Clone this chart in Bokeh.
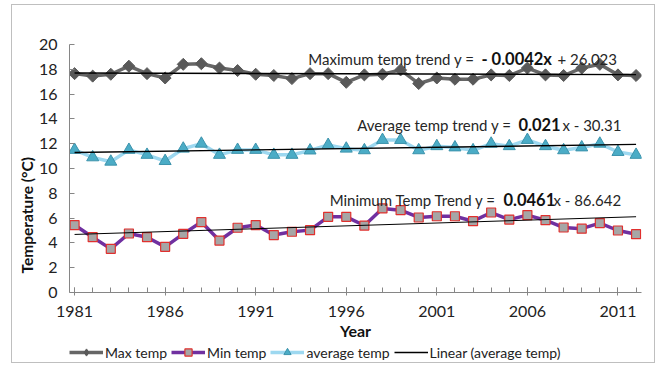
import math
from bokeh.plotting import figure
from bokeh.layouts import column
from bokeh.models import Label, Legend, LegendItem, FixedTicker, Range1d, Title
from bokeh.embed import file_html
from bokeh.resources import INLINE

# ---------------- data ----------------
years = list(range(1981, 2013))
max_temp = [17.65, 17.45, 17.6, 18.25, 17.65, 17.3, 18.4, 18.45, 18.1, 17.9,
            17.6, 17.5, 17.25, 17.65, 17.65, 16.95, 17.55, 17.6, 17.95, 16.85,
            17.3, 17.2, 17.2, 17.55, 17.5, 18.1, 17.55, 17.5, 18.1, 18.4,
            17.55, 17.5]
min_temp = [5.44, 4.46, 3.52, 4.76, 4.46, 3.68, 4.73, 5.68, 4.19, 5.22,
            5.44, 4.63, 4.9, 5.03, 6.1, 6.1, 5.4, 6.78, 6.64, 6.05,
            6.15, 6.15, 5.75, 6.45, 5.88, 6.24, 5.83, 5.24, 5.15, 5.6,
            5.0, 4.7]
avg_temp = [11.5, 10.9, 10.55, 11.5, 11.1, 10.6, 11.6, 12.0, 11.1, 11.5,
            11.5, 11.1, 11.1, 11.45, 11.9, 11.6, 11.47, 12.3, 12.3, 11.47,
            11.8, 11.7, 11.47, 12.0, 11.8, 12.3, 11.8, 11.47, 11.7, 12.0,
            11.33, 11.1]

# trend equations (slope, intercept) as printed on the chart
trend_max = (-0.0042, 26.023)
trend_avg = (0.021, -30.31)
trend_min = (0.0461, -86.642)

x_tick_values = [1981, 1986, 1991, 1996, 2001, 2006, 2011]
x_tick_labels = ["1981", "1986", "1991", "1996", "2001", "2006", "2011"]
y_tick_values = [0, 2, 4, 6, 8, 10, 12, 14, 16, 18, 20]
legend_labels = ["Max temp", "Min temp", "average temp", "Linear (average temp)"]

# styles
AX = "#868686"
FONT = "Lato"
C_MAX_LINE, C_MAX_MARK = "#666666", "#595959"
C_MIN_LINE, C_MIN_FILL, C_MIN_EDGE = "#7030A0", "#A6A6A6", "#E0302E"
C_AVG_LINE, C_AVG_FILL, C_AVG_EDGE = "#9DD8F0", "#4BACC6", "#3C93AC"

# ---------------- main figure ----------------
p = figure(frame_width=572, frame_height=248,
           x_range=Range1d(1980.72, 2012.3), y_range=Range1d(0, 20),
           output_backend="svg", toolbar_location=None,
           min_border_left=57, min_border_right=13,
           min_border_top=39, min_border_bottom=0)
p.margin = 0
p.outline_line_color = None
p.xgrid.grid_line_color = None
p.ygrid.grid_line_color = None

xa = p.xaxis[0]
xa.ticker = FixedTicker(ticks=x_tick_values, minor_ticks=years)
xa.major_label_overrides = {v: t for v, t in zip(x_tick_values, x_tick_labels)}
xa.axis_line_color = AX
xa.major_tick_line_color = AX
xa.minor_tick_line_color = AX
xa.major_tick_in = 5
xa.major_tick_out = 3
xa.minor_tick_in = 5
xa.minor_tick_out = 0
xa.major_label_standoff = 10
xa.major_label_text_font = FONT
xa.major_label_text_font_size = "16px"
xa.major_label_text_color = "#222222"
xa.axis_label = "Year"
xa.axis_label_text_font = FONT
xa.axis_label_text_font_size = "16px"
xa.axis_label_text_font_style = "bold"
xa.axis_label_text_color = "#111111"
xa.axis_label_standoff = 1

ya = p.yaxis[0]
ya.ticker = FixedTicker(ticks=y_tick_values, minor_ticks=[])
ya.axis_line_color = AX
ya.major_tick_line_color = AX
ya.minor_tick_line_color = None
ya.major_tick_in = 5
ya.major_tick_out = 0
ya.major_label_standoff = 12
ya.major_label_text_font = FONT
ya.major_label_text_font_size = "16px"
ya.major_label_text_color = "#222222"

ytitle = Title(text="Temperature (°C)", align="left", offset=19,
               text_font=FONT, text_font_size="15.5px", text_font_style="bold",
               text_color="#111111", standoff=0)
p.add_layout(ytitle, "left")

p.line(years, max_temp, line_color=C_MAX_LINE, line_width=3.5)
p.scatter(years, max_temp, marker="square", angle=math.pi / 4, size=8.5,
          fill_color=C_MAX_MARK, line_color=C_MAX_MARK)
p.line(years, min_temp, line_color=C_MIN_LINE, line_width=3.5)
p.scatter(years, min_temp, marker="square", size=9,
          fill_color=C_MIN_FILL, line_color=C_MIN_EDGE, line_width=1.2)
p.line(years, avg_temp, line_color=C_AVG_LINE, line_width=3.5)
p.scatter(years, avg_temp, marker="triangle", size=12,
          fill_color=C_AVG_FILL, line_color=C_AVG_EDGE, line_width=1)

ends = [years[0], years[-1]]
p.line(ends, [trend_max[0] * x + trend_max[1] for x in ends], line_color="black", line_width=1.3)
p.line(ends, [trend_avg[0] * x + trend_avg[1] for x in ends], line_color="black", line_width=1.3)
p.line(ends, [trend_min[0] * x + trend_min[1] for x in ends], line_color="black", line_width=1.0)


def dx(px):
    return 1981 + (px - 74.2) / 18.11


def dy(py):
    return (292 - py) / 12.4


def eq(norm1, bold_px, bold_txt, tail_px, tail_txt, base_py):
    p.add_layout(Label(x=dx(bold_px - 3), y=dy(base_py), text=norm1, text_align="right",
                       text_baseline="alphabetic", text_font=FONT, text_font_size="15px",
                       text_color="#262626"))
    p.add_layout(Label(x=dx(bold_px), y=dy(base_py), text=bold_txt, text_align="left",
                       text_baseline="alphabetic", text_font=FONT, text_font_size="16.5px",
                       text_font_style="bold", text_color="#111111"))
    p.add_layout(Label(x=dx(tail_px), y=dy(base_py), text=tail_txt, text_align="left",
                       text_baseline="alphabetic", text_font=FONT, text_font_size="15px",
                       text_color="#262626"))


eq("Maximum temp  trend y =", 481, "- 0.0042x", 557, "+ 26.023", 58)
eq("Average temp  trend y =", 518, "0.021", 562, "x - 30.31", 124)
eq("Minimum Temp  Trend y =", 503, "0.0461", 553, "x - 86.642", 199)

# ---------------- legend strip ----------------
# legend glyph renderers: one real data point each, lying outside this strip's range
lf = figure(width=642, height=20, x_range=Range1d(0, 1), y_range=Range1d(0, 1),
            output_backend="svg", toolbar_location=None, min_border=0,
            x_axis_location=None, y_axis_location=None)
lf.margin = 0
lf.outline_line_color = None
lf.grid.visible = False

x0 = years[:1]
g_max = [lf.line(x0, max_temp[:1], line_color=C_MAX_LINE, line_width=3.5),
         lf.scatter(x0, max_temp[:1], marker="diamond", size=14,
                    fill_color=C_MAX_MARK, line_color=C_MAX_MARK)]
g_min = [lf.line(x0, min_temp[:1], line_color=C_MIN_LINE, line_width=3.5),
         lf.scatter(x0, min_temp[:1], marker="square", size=9, fill_color=C_MIN_FILL,
                    line_color=C_MIN_EDGE, line_width=1.2)]
g_avg = [lf.line(x0, avg_temp[:1], line_color=C_AVG_LINE, line_width=3.5),
         lf.scatter(x0, avg_temp[:1], marker="triangle", size=12, fill_color=C_AVG_FILL,
                    line_color=C_AVG_EDGE, line_width=1)]
g_trend = [lf.line(x0, avg_temp[:1], line_color="black", line_width=1.3)]

legend = Legend(items=[LegendItem(label=lab, renderers=rs) for lab, rs in
                       zip(legend_labels, [g_max, g_min, g_avg, g_trend])],
                orientation="horizontal", location=(0, 1))
legend.padding = 0
legend.margin = 0
legend.spacing = 4
legend.glyph_width = 34
legend.glyph_height = 18
legend.label_height = 18
legend.label_standoff = 2
legend.border_line_color = None
legend.background_fill_alpha = 0
legend.label_text_font = FONT
legend.label_text_font_size = "14px"
legend.label_text_color = "#222222"
lf.add_layout(legend, "center")

layout = column(p, lf, spacing=0)
layout.margin = (4, 0, 0, 11)
layout.styles = {"border": "1px solid #BFBFBF"}

open("out.html", "w").write(file_html(layout, INLINE))
